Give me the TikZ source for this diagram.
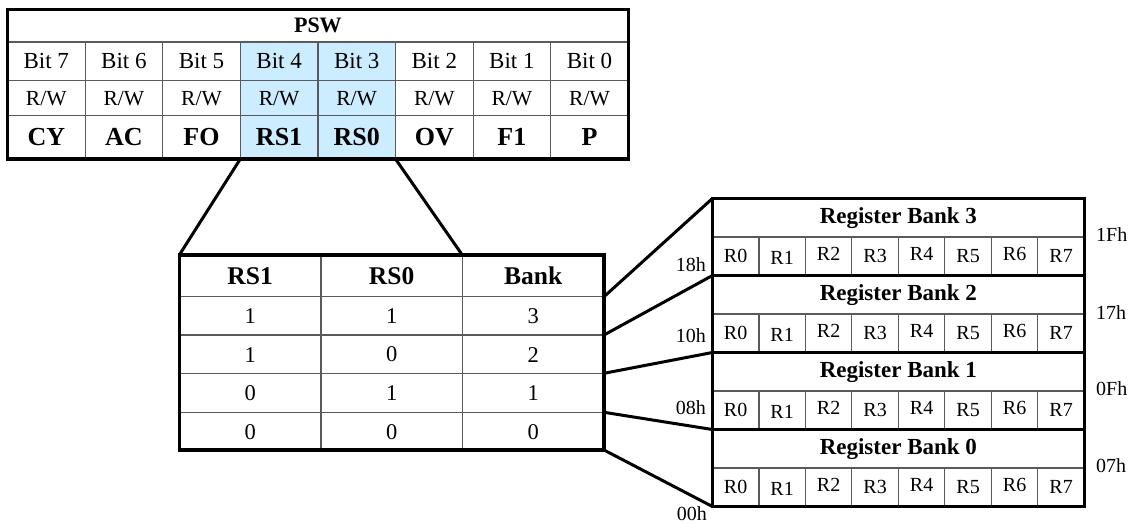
\documentclass[tikz,border=0pt]{standalone}
\usepackage{fontspec}
\setmainfont{Liberation Serif}
\definecolor{hl}{RGB}{204,236,255}
\definecolor{thinc}{RGB}{90,90,90}
\tikzset{
  innerline/.style={draw=thinc, line width=1.2pt},
  outerline/.style={draw=black, line width=3.2pt, line join=miter},
  fanline/.style={draw=black, line width=3pt},
  bittext/.style={font=\fontsize{23}{27}\selectfont, inner sep=0pt},
  rwtext/.style={font=\fontsize{21.5}{25}\selectfont, inner sep=0pt},
  nametext/.style={font=\fontsize{26}{30}\selectfont\bfseries, inner sep=0pt},
  psWtext/.style={font=\fontsize{22}{26}\selectfont\bfseries, inner sep=0pt},
  headtext/.style={font=\fontsize{25.5}{30}\selectfont\bfseries, inner sep=0pt},
  valtext/.style={font=\fontsize{22.5}{27}\selectfont, inner sep=0pt},
  banktext/.style={font=\fontsize{23}{27}\selectfont\bfseries, inner sep=0pt},
  rtext/.style={font=\fontsize{20}{24}\selectfont, inner sep=0pt},
  addrtext/.style={font=\fontsize{20}{24}\selectfont, inner sep=0pt},
}
\begin{document}
\begin{tikzpicture}[x=1pt,y=-1pt]
\useasboundingbox (0,0) rectangle (1134,524);
% ---------------- PSW register ----------------
\fill[hl] (240.3,42) rectangle (395.5,159);
\foreach \yy in {42,80.7,115.7} \draw[innerline] (7.5,\yy) -- (628.3,\yy);
\foreach \i in {1,...,7} \draw[innerline] ({7.5+\i*77.6},42) -- ({7.5+\i*77.6},159);
\draw[outerline] (7.5,9.5) rectangle (628.3,159);
\node[psWtext] (psw) at (317.9,25.75) {PSW};
\foreach \i/\nm in {0/CY,1/AC,2/FO,3/RS1,4/RS0,5/OV,6/F1,7/P}{
  \pgfmathsetmacro\cx{7.5+(\i+0.5)*77.6}
  \pgfmathtruncatemacro\bb{7-\i}
  \node[bittext] (bit\bb) at (\cx,61.35) {Bit \bb};
  \node[rwtext] (rw\bb) at (\cx,98.2) {R/W};
  \node[nametext] (name\bb) at (\cx,137.35) {\nm};
}
\coordinate (pswA) at (240.3,159);
\coordinate (pswB) at (395.5,159);
% ---------------- RS table ----------------
\foreach \yy in {296.7,335,373.3,412.3} \draw[innerline] (179.3,\yy) -- (604,\yy);
\foreach \xx in {321,462.3} \draw[innerline] (\xx,255) -- (\xx,450);
\draw[outerline] (179.3,255) rectangle (604,450);
\coordinate (tblA) at (179.3,255);
\coordinate (tblB) at (462.3,255);
\node[headtext] (hRS1) at (250.15,275.8) {RS1};
\node[headtext] (hRS0) at (391.65,275.8) {RS0};
\node[headtext] (hBank) at (533.15,275.8) {Bank};
\foreach \k/\a/\b/\c in {0/1/1/3,1/1/0/2,2/0/1/1,3/0/0/0}{
  \pgfmathsetmacro\cy{316+\k*38.6}
  \node[valtext] (va\k) at (250.15,\cy) {\a};
  \node[valtext] (vb\k) at (391.65,\cy) {\b};
  \node[valtext] (vc\k) at (533.15,\cy) {\c};
}
\coordinate (tr1) at (604,296.7);
\coordinate (tr2) at (604,335);
\coordinate (tr3) at (604,373.3);
\coordinate (tr4) at (604,412.3);
\coordinate (tr5) at (604,450);
% ---------------- Register banks ----------------
\foreach \bk in {3,2,1,0}{
  \pgfmathsetmacro\ytop{198.5+(3-\bk)*77}
  \pgfmathsetmacro\ymid{\ytop+38.5}
  \pgfmathsetmacro\ybot{\ytop+77}
  \draw[innerline] (712.4,\ymid) -- (1084.3,\ymid);
  \foreach \r in {1,...,7} \draw[innerline] ({712.4+\r*46.49},\ymid) -- ({712.4+\r*46.49},\ybot);
  \draw[outerline] (712.4,\ytop) rectangle (1084.3,\ybot);
  \node[banktext] (bank\bk) at (898.35,{\ytop+19.25}) {Register Bank \bk};
  \foreach \r/\dy in {0/0,1/2,2/-2,3/0,4/-2,5/0,6/-2,7/0}
    \node[rtext] (b\bk-r\r) at ({712.4+(\r+0.5)*46.49},{\ymid+19.25+\dy}) {R\r};
  \coordinate (b\bk nw) at (712.4,\ytop);
}
\coordinate (b0sw) at (712.4,506.5);
% ---------------- connectors ----------------
\draw[fanline] (pswA) -- (tblA);
\draw[fanline] (pswB) -- (tblB);
\draw[fanline] (tr1) -- (b3nw);
\draw[fanline] (tr2) -- (b2nw);
\draw[fanline] (tr3) -- (b1nw);
\draw[fanline] (tr4) -- (b0nw);
\draw[fanline] (tr5) -- (b0sw);
% ---------------- addresses ----------------
\node[addrtext, anchor=base east] (a18) at (706,271) {18h};
\node[addrtext, anchor=base east] (a10) at (706,342) {10h};
\node[addrtext, anchor=base east] (a08) at (706,414) {08h};
\node[addrtext, anchor=base east] (a00) at (707,520) {00h};
\node[addrtext, anchor=base west] (a1F) at (1096,241) {1Fh};
\node[addrtext, anchor=base west] (a17) at (1096,319) {17h};
\node[addrtext, anchor=base west] (a0F) at (1096,395) {0Fh};
\node[addrtext, anchor=base west] (a07) at (1096,472) {07h};
\end{tikzpicture}
\end{document}
